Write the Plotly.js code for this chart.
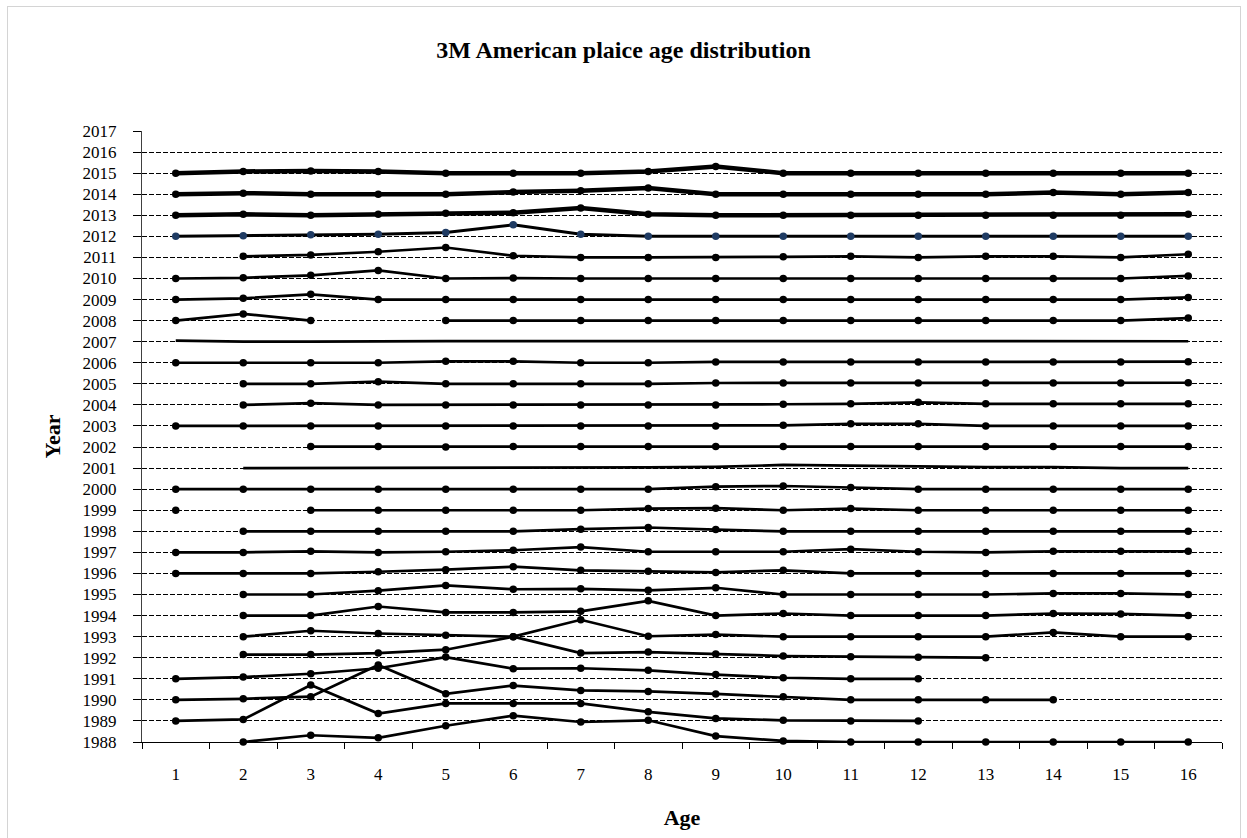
<!DOCTYPE html>
<html><head><meta charset="utf-8">
<script src="https://cdn.plot.ly/plotly-3.0.1.min.js"></script>
<style>
html,body{margin:0;padding:0;background:#fff}
#chart{position:absolute;left:0;top:0;width:1247px;height:838px}
#frame{position:absolute;left:7px;top:6px;width:1232px;height:850px;border:1px solid #d4d4d4;pointer-events:none}
</style>
</head><body>
<div id="chart"></div><div id="frame"></div>
<script>
// Ages (categories on x)
const ages = ['1','2','3','4','5','6','7','8','9','10','11','12','13','14','15','16'];
// Year tick labels on y
const yearTicks = [1988,1989,1990,1991,1992,1993,1994,1995,1996,1997,1998,1999,2000,2001,2002,2003,2004,2005,2006,2007,2008,2009,2010,2011,2012,2013,2014,2015,2016,2017];

// Per-year age distribution values (height above the year's baseline), null = no data
const y2015 = [0,0.08,0.1,0.08,0,0,0,0.08,0.32,0,0,0,0,0,0,0];
const y2014 = [0,0.05,0,0,0,0.1,0.17,0.3,0,0,0,0,0,0.08,0,0.08];
const y2013 = [0,0.05,0,0.05,0.1,0.12,0.35,0.05,0,0,0,0,0,0,0,0.05];
const y2012 = [0,0.03,0.08,0.1,0.18,0.55,0.1,0,0,0,0,0,0,0,0,0];
const y2011 = [null,0.05,0.12,0.27,0.47,0.08,0,0,0,0.03,0.05,0,0.05,0.05,0,0.15];
const y2010 = [0,0.03,0.15,0.38,0,0.02,0,0,0,0,0,0,0,0,0,0.12];
const y2009 = [0,0.06,0.25,0,0,0,0,0,0,0,0,0,0,0,0,0.1];
const y2008 = [0,0.32,0,null,0,0,0,0,0,0,0,0,0,0,0,0.12];
const y2007 = [0.05,0,0,0.03,0.03,0.03,0.03,0.03,0.03,0.03,0.03,0.03,0.03,0.03,0.03,0.02];
const y2006 = [0,0,0,0,0.07,0.07,0,0,0.04,0.04,0.04,0.04,0.04,0.04,0.04,0.05];
const y2005 = [null,0,0,0.1,0,0,0,0,0.04,0.04,0.04,0.04,0.04,0.04,0.04,0.05];
const y2004 = [null,0,0.08,0,0,0,0,0,0,0.03,0.05,0.12,0.05,0.05,0.05,0.05];
const y2003 = [0,0,0,0,0,0,0,0,0,0.03,0.1,0.1,0,0,0,0];
const y2002 = [null,null,0.02,0.02,0,0.02,0.02,0.02,0.02,0.02,0.02,0.02,0.02,0.02,0.02,0.02];
const y2001 = [null,0,0,0,0,0,0,0.03,0.06,0.15,0.12,0.07,0.05,0.05,0,0];
const y2000 = [0,0,0,0,0,0,0,0,0.12,0.15,0.08,0,0,0,0,0];
const y1999 = [0,null,0,0,0,0,0,0.08,0.1,0,0.08,0,0,0,0,0];
const y1998 = [null,0,0,0,0,0,0.1,0.18,0.08,0,0,0,0,0,0,0];
const y1997 = [0,0,0.05,0,0.03,0.1,0.25,0.03,0.03,0.03,0.15,0.03,0,0.05,0.05,0.05];
const y1996 = [0,0,0,0.08,0.18,0.32,0.15,0.1,0.05,0.15,0,0,0,0,0,0];
const y1995 = [null,0,0,0.18,0.43,0.25,0.27,0.2,0.32,0,0,0,0,0.05,0.05,0];
const y1994 = [null,0,0,0.43,0.15,0.15,0.2,0.7,0,0.1,0,0,0,0.1,0.08,0];
const y1993 = [null,0,0.28,0.15,0.07,0,0.8,0.02,0.1,0,0,0,0,0.2,0,0];
const y1992 = [null,0.15,0.15,0.22,0.38,1.0,0.22,0.27,0.18,0.08,0.05,0.02,0,null,null,null];
const y1991 = [0,0.08,0.24,0.5,1.03,0.48,0.5,0.4,0.2,0.05,0,0,null,null,null,null];
const y1990 = [0,0.05,0.15,1.65,0.29,0.68,0.45,0.4,0.28,0.15,0,0,0,0,null,null];
const y1989 = [0,0.07,1.7,0.35,0.83,0.83,0.83,0.43,0.12,0.03,0,0,null,null,null,null];
const y1988 = [null,0,0.32,0.2,0.77,1.25,0.95,1.03,0.28,0.05,0,0,0,0,0,0];

const series = [
  [2015,y2015],[2014,y2014],[2013,y2013],[2012,y2012],[2011,y2011],[2010,y2010],
  [2009,y2009],[2008,y2008],[2007,y2007],[2006,y2006],[2005,y2005],[2004,y2004],
  [2003,y2003],[2002,y2002],[2001,y2001],[2000,y2000],[1999,y1999],[1998,y1998],
  [1997,y1997],[1996,y1996],[1995,y1995],[1994,y1994],[1993,y1993],[1992,y1992],
  [1991,y1991],[1990,y1990],[1989,y1989],[1988,y1988]
];
const noMarkerYears = [2007, 2001];
const thickYears = [2013, 2014, 2015];

const traces = series.map(([yr, vals]) => {
  const thick = thickYears.includes(yr);
  const mcol = yr === 2012 ? '#1f3b63' : '#000000';
  return {
    type: 'scatter',
    x: ages,
    y: vals.map(v => v === null ? null : yr + v),
    mode: noMarkerYears.includes(yr) ? 'lines' : 'lines+markers',
    name: String(yr),
    line: {color: '#000000', width: thick ? 4.5 : (yr === 2012 ? 3 : 2.7)},
    marker: {color: mcol, size: 7.5, line: {width: 0}},
    connectgaps: false,
    cliponaxis: false,
    hoverinfo: 'x+y'
  };
});

const serif = 'Liberation Serif, Times New Roman, serif';
const layout = {
  width: 1247, height: 838,
  paper_bgcolor: '#ffffff', plot_bgcolor: '#ffffff',
  showlegend: false,
  margin: {l: 142, r: 25, t: 131, b: 96, pad: 0},
  title: {
    text: '<b>3M American plaice age distribution</b>',
    font: {family: serif, size: 24, color: '#000'},
    x: 0.5, xref: 'container', y: 1 - 50/838, yref: 'container', yanchor: 'middle'
  },
  xaxis: {
    type: 'category',
    range: [-0.5, 15.5],
    tickson: 'boundaries',
    ticks: 'outside', ticklen: 6, tickcolor: '#000', tickwidth: 1,
    showline: true, linecolor: '#000', linewidth: 1,
    showgrid: false, zeroline: false,
    tickfont: {family: serif, size: 17, color: '#000'},
    ticklabelstandoff: 17,
    title: {text: '<b>Age</b>', font: {family: serif, size: 22, color: '#000'}, standoff: 26},
    fixedrange: true
  },
  yaxis: {
    range: [1988, 2017],
    tickmode: 'array', tickvals: yearTicks, ticktext: yearTicks.map(String),
    ticks: 'outside', ticklen: 8, tickcolor: '#000', tickwidth: 1,
    showline: true, linecolor: '#404040', linewidth: 1,
    showgrid: true, gridcolor: '#000', gridwidth: 1, griddash: '5px,2px',
    zeroline: false,
    tickfont: {family: serif, size: 17, color: '#000'},
    ticklabelstandoff: 13,
    title: {text: '<b>Year</b>', font: {family: serif, size: 22, color: '#000'}, standoff: 15},
    fixedrange: true
  }
};

Plotly.newPlot('chart', traces, layout, {displayModeBar: false, staticPlot: true});
</script>
</body></html>
